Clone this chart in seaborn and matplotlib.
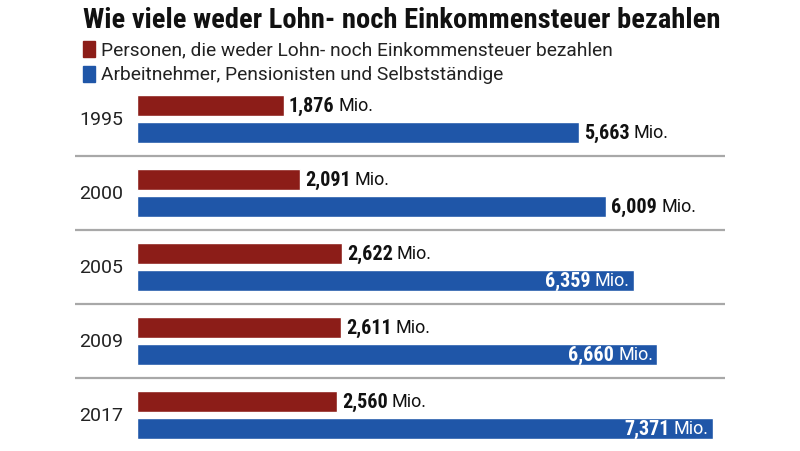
import matplotlib
matplotlib.use("Agg")
import matplotlib.pyplot as plt
import seaborn as sns
import pandas as pd
from matplotlib import font_manager as fm

years = ["1995", "2000", "2005", "2009", "2017"]
non_payers = [1.876, 2.091, 2.622, 2.611, 2.560]
workers = [5.663, 6.009, 6.359, 6.660, 7.371]
series_names = ["Personen, die weder Lohn- noch Einkommensteuer bezahlen",
                "Arbeitnehmer, Pensionisten und Selbstständige"]
colors = ["#8c1d18", "#1f56a8"]
title = "Wie viele weder Lohn- noch Einkommensteuer bezahlen"
inside = [False, False, True, True, True]

df = pd.DataFrame({
    "year": years * 2,
    "value": non_payers + workers,
    "series": [series_names[0]] * 5 + [series_names[1]] * 5,
})

sns.set_theme(style="white")
names = {f.name for f in fm.fontManager.ttflist}
pref = ["Roboto Condensed", "Liberation Sans Narrow", "Open Sans Condensed", "Roboto"]
cond = next((n for n in pref if n in names), "DejaVu Sans")
plt.rcParams["font.family"] = ["Roboto", "DejaVu Sans"]

fig = plt.figure(figsize=(8, 4.52), dpi=100)
W, H = 800, 452
px = 78.1
ax_l, ax_r = 75, 725
ax_t, ax_b = 90, 450
ax = fig.add_axes([ax_l / W, 1 - ax_b / H, (ax_r - ax_l) / W, (ax_b - ax_t) / H])

sns.barplot(data=df, y="year", x="value", hue="series", orient="h",
            palette=colors, width=0.73, gap=0.24, legend=False, ax=ax, saturation=1)

ax.set_xlim(-(137 - ax_l) / px, (ax_r - 137) / px)
ax.set_ylim(4 + (ax_b - 416) / 74, -(120 - ax_t) / 74)
ax.axis("off")

for i in range(4):
    ax.axhline(i + 0.5, color="#a8a8a8", lw=1.6)

def fmt(v):
    return f"{v:.3f}".replace(".", ",")

NUM_FS, MIO_FS = 14.5, 13
numkw = dict(fontsize=NUM_FS, fontweight="bold", family=[cond, "DejaVu Sans"])
renderer = fig.canvas.get_renderer()
DY = 2.5

off = 0.1825
for i, y in enumerate(years):
    ax.text(-0.18, i, y, ha="right", va="center", fontsize=14, color="#222222")
    for val, yy, ins in ((non_payers[i], i - off, False), (workers[i], i + off, inside[i])):
        if not ins:
            t = ax.annotate(fmt(val), xy=(val, yy), xytext=(5, DY), textcoords="offset pixels",
                            ha="left", va="center_baseline", color="#111111", **numkw)
            wpx = t.get_window_extent(renderer).width
            ax.annotate("Mio.", xy=(val, yy), xytext=(5 + wpx + 4, DY), textcoords="offset pixels",
                        ha="left", va="center_baseline", fontsize=MIO_FS, color="#111111")
        else:
            t = ax.annotate("Mio.", xy=(val, yy), xytext=(-4, DY), textcoords="offset pixels",
                            ha="right", va="center_baseline", fontsize=MIO_FS, color="white")
            wpx = t.get_window_extent(renderer).width
            ax.annotate(fmt(val), xy=(val, yy), xytext=(-4 - wpx - 4, DY), textcoords="offset pixels",
                        ha="right", va="center_baseline", color="white", **numkw)

tt = fig.text(83 / W, 1 - 20 / H, title, ha="left", va="center", fontsize=20,
              fontweight="bold", family=[cond, "DejaVu Sans"], color="#111111")
w = tt.get_window_extent(renderer).width
tt.set_fontsize(20 * 632 / w)

for k, (name, c) in enumerate(zip(series_names, colors)):
    yc = 50 + 25 * k
    fig.patches.append(plt.Rectangle((83 / W, 1 - (yc + 8) / H), 12 / W, 16 / H,
                                     transform=fig.transFigure, color=c))
    fig.text(101 / W, 1 - yc / H, name, ha="left", va="center", fontsize=13.8, color="#222222")

fig.savefig("out.png", dpi=100, facecolor="white")
